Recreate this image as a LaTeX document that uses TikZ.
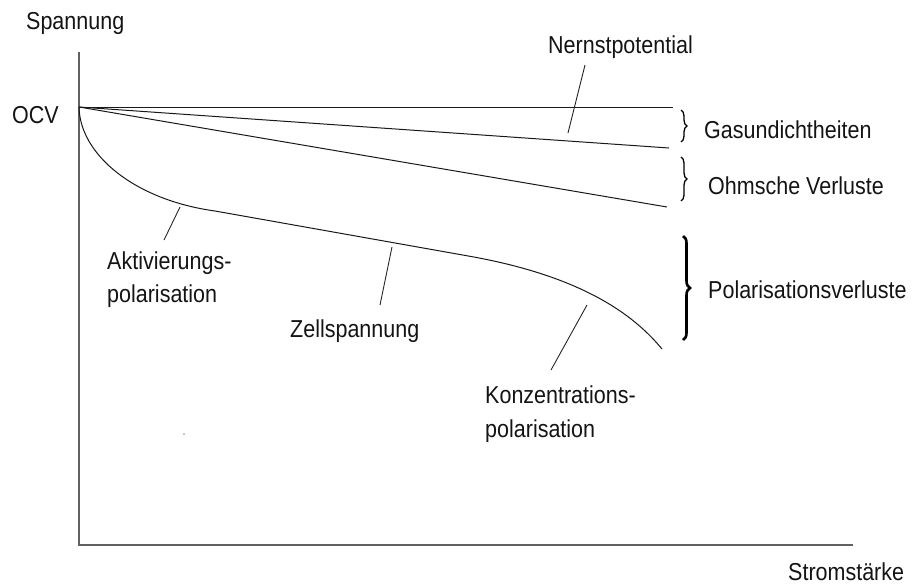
\documentclass[tikz,border=0pt]{standalone}
\usepackage{fontspec}
\usepackage{graphicx}
\setmainfont{Liberation Sans}
\usetikzlibrary{decorations.pathreplacing}
\newcommand{\tallt}[1]{\scalebox{1}[1.14]{#1}}
\begin{document}
\begin{tikzpicture}[x=1pt,y=-1pt,
  lbl/.style={anchor=base west,inner sep=0pt,font=\fontsize{21.5}{26}\selectfont,text=black!92},
  axis/.style={draw=black!62,line width=1.4pt},
  curve/.style={draw=black!90,line width=1pt},
  leader/.style={draw=black!85,line width=0.9pt},
  bracesmall/.style={draw=black,line width=1.3pt,decorate,decoration={brace,amplitude=6pt}},
  bracebig/.style={draw=black,line width=2.6pt,decorate,decoration={brace,amplitude=7pt}}]
\useasboundingbox (0,0) rectangle (916,584);
% axes
\coordinate (ytop) at (79,52);
\coordinate (orig) at (79,545);
\coordinate (xend) at (853,545);
\coordinate (ocv) at (79,107);
\draw[axis] (ytop) -- (orig) -- (xend);
% curves
\coordinate (e1) at (673,107);
\coordinate (e2) at (669,148);
\coordinate (e3) at (667,207);
\coordinate (k1) at (215,211);
\coordinate (k2) at (470,256.3);
\coordinate (e4) at (662,349);
\draw[curve] (ocv) -- (e1);
\draw[curve] (ocv) -- (e2);
\draw[curve] (ocv) -- (e3);
\draw[curve] (ocv) .. controls (80,155) and (135,200) .. (k1) -- (k2)
  .. controls (590,277.7) and (638,320) .. (e4);
% labels
\node[lbl] (span) at (26,29) {\tallt{Spannung}};
\node[lbl] (ocvl) at (12,123) {\tallt{OCV}};
\node[lbl] (nernst) at (548,53) {\tallt{Nernstpotential}};
\node[lbl] (gas) at (704,138) {\tallt{Gasundichtheiten}};
\node[lbl] (ohm) at (708,194) {\tallt{Ohmsche Verluste}};
\node[lbl] (pol) at (708,298) {\tallt{Polarisationsverluste}};
\node[lbl] (akt) at (107,269) {\tallt{Aktivierungs-}};
\node[lbl] (akt2) at (107,302) {\tallt{polarisation}};
\node[lbl] (zell) at (290,337) {\tallt{Zellspannung}};
\node[lbl] (konz) at (485,403) {\tallt{Konzentrations-}};
\node[lbl] (konz2) at (485,437) {\tallt{polarisation}};
\node[lbl] (strom) at (788,580.5) {\tallt{Stromstärke}};
% leaders
\coordinate (n1) at (585,65);  \coordinate (n2) at (568,133);
\coordinate (a1) at (180,207); \coordinate (a2) at (164,240);
\coordinate (z1) at (392,247); \coordinate (z2) at (380,305);
\coordinate (c1) at (587,305); \coordinate (c2) at (551,370);
\draw[leader] (n1) -- (n2);
\draw[leader] (a1) -- (a2);
\draw[leader] (z1) -- (z2);
\draw[leader] (c1) -- (c2);
% braces
\coordinate (b1t) at (681,110); \coordinate (b1b) at (681,142);
\coordinate (b2t) at (681,157); \coordinate (b2b) at (681,201);
\coordinate (b3t) at (683,236); \coordinate (b3b) at (683,340);
\draw[bracesmall] (b1t) -- (b1b);
\draw[bracesmall] (b2t) -- (b2b);
\draw[bracebig] (b3t) -- (b3b);
% speck
\fill[black!45] (184,434) circle (0.8);
\end{tikzpicture}
\end{document}
